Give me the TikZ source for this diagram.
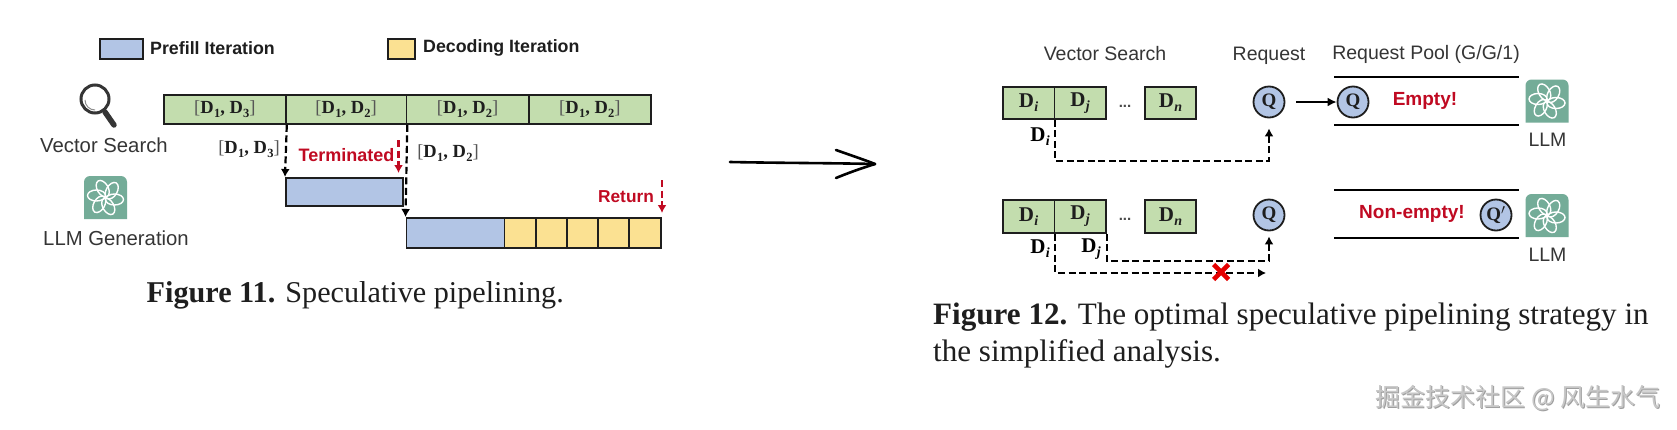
\documentclass[tikz,border=0pt]{standalone}
\usepackage{fontspec}
\setmainfont{Liberation Sans}
\newfontfamily\ser{Liberation Serif}
\newfontfamily\cjk{Noto Sans CJK SC}
\usetikzlibrary{arrows.meta,calc}
\definecolor{gcell}{HTML}{C3DDAE}
\definecolor{bcell}{HTML}{B2C5E5}
\definecolor{ycell}{HTML}{FBE192}
\definecolor{redt}{HTML}{C00A22}
\definecolor{gptc}{HTML}{74AC98}
\definecolor{ink}{HTML}{1E1E1E}
\newcommand{\subsz}[1]{\raisebox{-.2em}{\fontsize{12.5}{13}\selectfont #1}}
\newcommand{\ddpair}[1]{{\ser\textcolor{ink!75}{[}\textbf{D\kern.3pt\subsz{1}, D\kern.3pt\subsz{#1}}\textcolor{ink!75}{]}}}
\newcommand{\dsub}[1]{{\ser\textbf{D\kern.3pt\raisebox{-.2em}{\fontsize{14}{14}\selectfont\textit{#1}}}}}
\tikzset{
  x=1pt,y=-1pt,
  cell/.style={draw=ink,line width=1.8pt,inner sep=0pt,anchor=north west,text=ink},
  dd/.style={font=\fontsize{18.5}{19}\selectfont,text=ink,inner sep=0pt},
  sans/.style={font=\fontsize{19.5}{20}\selectfont,text=ink!90,inner sep=0pt},
  sansl/.style={font=\fontsize{20.3}{21}\selectfont,text=ink!90,inner sep=0pt},
  legend/.style={font=\fontsize{17.8}{18}\selectfont\bfseries,text=ink,inner sep=0pt,anchor=west},
  redlab/.style={font=\fontsize{18}{18}\selectfont\bfseries,text=redt,inner sep=0pt},
  redlabb/.style={font=\fontsize{19}{19}\selectfont\bfseries,text=redt,inner sep=0pt},
  dashline/.style={draw=black,line width=2.2pt,dash pattern=on 7pt off 3.5pt,-{Latex[length=8pt,width=9pt]}},
  reddash/.style={draw=redt,line width=2.2pt,dash pattern=on 7pt off 3.5pt,-{Latex[length=8pt,width=9pt]}},
  reqc/.style={circle,draw=ink,fill=bcell,line width=1.8pt,minimum size=31pt,inner sep=0pt,font=\ser\bfseries\fontsize{19}{19}\selectfont,text=ink},
  poolline/.style={draw=black,line width=2.2pt},
  dcell/.style={font=\fontsize{21}{21}\selectfont},
  dotsl/.style={inner sep=0pt,text=ink!80,font=\bfseries\fontsize{15}{15}\selectfont},
  capt/.style={font=\ser\fontsize{30.2}{37}\selectfont,text=ink,inner sep=0pt,anchor=west},
  gpticon/.pic={
    \path[fill=gptc,rounded corners=6pt] (-21.5,21.5) -- (-21.5,-21.5) -- (21.5,-21.5) -- (21.5,10) [sharp corners] -- (21.5,21.5) -- cycle;
    \foreach \a in {0,60,...,300}{
      \draw[white,line width=1.4pt,rotate=\a] (9,2) ellipse [x radius=9pt,y radius=5.5pt];
    }
  }
}
\begin{document}
\begin{tikzpicture}
\useasboundingbox (0,0) rectangle (1677,429);
\fill[white] (0,0) rectangle (1677,429);
% legend
\node[cell,fill=bcell,minimum width=43pt,minimum height=20pt] (lb) at (99,38) {};
\node[legend] (lbt) at (150,48) {Prefill Iteration};
\node[cell,fill=ycell,minimum width=27pt,minimum height=20pt] (ly) at (387,38) {};
\node[legend] (lyt) at (423,48) {Decoding Iteration};
% vector-search bar
\node[cell,fill=gcell,minimum width=122pt,minimum height=29pt,dd] (c1) at (163,94) {\ddpair{3}};
\node[cell,fill=gcell,minimum width=120.5pt,minimum height=29pt,dd] (c2) at (285,94) {\ddpair{2}};
\node[cell,fill=gcell,minimum width=122.5pt,minimum height=29pt,dd] (c3) at (405.5,94) {\ddpair{2}};
\node[cell,fill=gcell,minimum width=122pt,minimum height=29pt,dd] (c4) at (528,94) {\ddpair{2}};
% magnifier
\draw[draw=ink!90,line width=3pt] (95,99) circle (14pt);
\draw[draw=ink!50,line width=1pt] (85,100) arc (180:270:10pt);
\draw[draw=ink!90,line width=5.5pt,line cap=round] (105,112) -- (114,125);
\node[sansl] (vs) at (104,145) {Vector Search};
\pic at (105.5,197.5) {gpticon};
\node[sansl] (lg) at (116,238) {LLM Generation};
% prefill boxes
\node[cell,fill=bcell,minimum width=117pt,minimum height=28pt] (p1) at (285,177) {};
\node[cell,fill=bcell,minimum width=98pt,minimum height=30pt] (p2) at (405.5,217) {};
\node[cell,fill=ycell,minimum width=31.5pt,minimum height=30pt] (y1) at (503.5,217) {};
\node[cell,fill=ycell,minimum width=31pt,minimum height=30pt] (y2) at (535,217) {};
\node[cell,fill=ycell,minimum width=31pt,minimum height=30pt] (y3) at (566,217) {};
\node[cell,fill=ycell,minimum width=31pt,minimum height=30pt] (y4) at (597,217) {};
\node[cell,fill=ycell,minimum width=32pt,minimum height=30pt] (y5) at (628,217) {};
% connectors left
\draw[dashline] (c1.south east) -- (p1.north west);
\draw[dashline] (c2.south east) -- (p2.north west);
\node[dd] (l13) at (249,149) {\ddpair{3}};
\node[dd] (l12) at (448,153) {\ddpair{2}};
\node[redlab] (term) at (346.5,155) {Terminated};
\coordinate (rt1) at (398.5,140);
\coordinate (rt2) at (398.5,173);
\draw[reddash] (rt1) -- (rt2);
\node[redlab,font=\fontsize{17.3}{18}\selectfont\bfseries] (ret) at (626,197) {Return};
\coordinate (rr1) at (662,180);
\coordinate (rr2) at (662,213);
\draw[reddash] (rr1) -- (rr2);
% captions
\node[capt] (cap11) at (146.5,295) {\textbf{Figure 11.} Speculative pipelining.};
\node[capt,align=left,anchor=north west,font=\ser\fontsize{31.1}{37}\selectfont] (cap12) at (933,303) {\textbf{Figure 12.} The optimal speculative pipelining strategy in\\the simplified analysis.};
% hand arrow
\coordinate (ha1) at (730,162);
\coordinate (ha2) at (875,164);
\coordinate (hb1) at (836,150);
\coordinate (hb2) at (836,178);
\draw[black,line width=2.6pt,line cap=round] (ha1) .. controls (780,163) and (830,163) .. (ha2);
\draw[black,line width=2.6pt,line cap=round,line join=round] (hb1) .. controls (850,155) and (865,160) .. (ha2) .. controls (862,168) and (848,173) .. (hb2);
% right figure headings
\node[sans] (h1) at (1105,54) {Vector Search};
\node[sans] (h2) at (1269,56) {Request};
\node[sans] (h3) at (1426,54) {Request Pool (G/G/1)};
% row 1
\node[cell,fill=gcell,minimum width=51.5pt,minimum height=32pt,dcell] (a1) at (1002,86) {\dsub{i}};
\node[cell,fill=gcell,minimum width=51.5pt,minimum height=32pt,dcell] (a2) at (1053.5,86) {\dsub{j}};
\node[dotsl] (adots) at (1125,106) {...};
\node[cell,fill=gcell,minimum width=51pt,minimum height=32pt,dcell] (a3) at (1144,86) {\dsub{n}};
\node[reqc] (q1) at (1269,102) {Q};
\node[reqc] (q2) at (1353,102) {Q};
\coordinate (qa) at (1296,102);
\draw[black,line width=2.2pt,-{Latex[length=9pt,width=9pt]}] (qa) -- (q2.west);
\node[dcell,inner sep=0pt] (ali) at (1040,137) {\dsub{i}};
\draw[dashline] (a1.south east) -- ++(0,41) -| ($(q1.south)+(0,10)$);
\node[redlabb] (emp) at (1425,101) {Empty!};
\coordinate (p1a) at (1334,77); \coordinate (p1b) at (1519,77);
\coordinate (p1c) at (1334,125); \coordinate (p1d) at (1519,125);
\draw[poolline] (p1a) -- (p1b);
\draw[poolline] (p1c) -- (p1d);
\pic at (1547,101) {gpticon};
\node[sans] (llm1) at (1547.5,140) {LLM};
% row 2
\node[cell,fill=gcell,minimum width=51.5pt,minimum height=33pt,dcell] (b1) at (1002,199) {\dsub{i}};
\node[cell,fill=gcell,minimum width=51.5pt,minimum height=33pt,dcell] (b2) at (1053.5,199) {\dsub{j}};
\node[dotsl] (bdots) at (1125,219) {...};
\node[cell,fill=gcell,minimum width=51pt,minimum height=33pt,dcell] (b3) at (1144,199) {\dsub{n}};
\node[reqc] (q3) at (1269,215) {Q};
\node[reqc] (q4) at (1496,215) {Q$'$};
\node[dcell,inner sep=0pt] (bli) at (1040,249) {\dsub{i}};
\node[dcell,inner sep=0pt] (blj) at (1091,249) {\dsub{j}};
\draw[dashline] (b2.south east) -- ++(0,27) -| ($(q3.south)+(0,5)$);
\coordinate (bend) at (1266,273);
\draw[dashline] (b1.south east) |- (bend);
\node[redlabb] (nemp) at (1412,214) {Non-empty!};
\coordinate (p2a) at (1334,190); \coordinate (p2b) at (1519,190);
\coordinate (p2c) at (1334,238); \coordinate (p2d) at (1519,238);
\draw[poolline] (p2a) -- (p2b);
\draw[poolline] (p2c) -- (p2d);
\pic at (1547,215.5) {gpticon};
\node[sans] (llm2) at (1547.5,254.5) {LLM};
% red cross
\coordinate (xc) at (1221,272);
\draw[red!90!black,line width=4.6pt] ($(xc)+(-7.5,-7.5)$) -- ($(xc)+(7.5,7.5)$) ($(xc)+(-7.5,7.5)$) -- ($(xc)+(7.5,-7.5)$);
% watermark
\node[inner sep=0pt,font=\cjk\fontsize{25}{25}\selectfont,text=gray!75] (wms) at (1519,399) {掘金技术社区 @ 风生水气};
\node[inner sep=0pt,font=\cjk\fontsize{25}{25}\selectfont,text=black!22] (wm) at (1518,398) {掘金技术社区 @ 风生水气};
\end{tikzpicture}
\end{document}
